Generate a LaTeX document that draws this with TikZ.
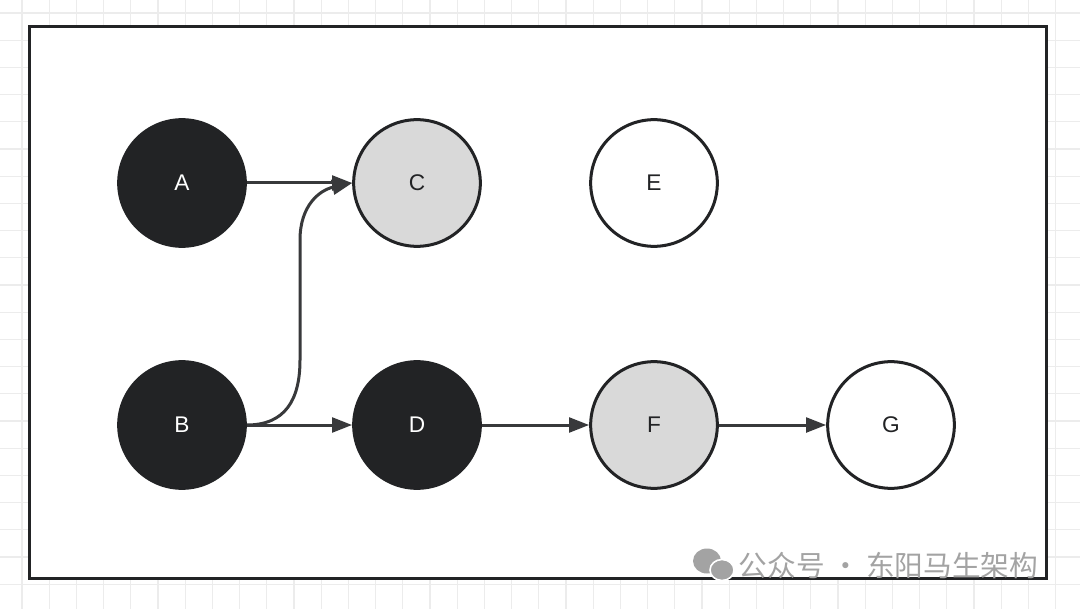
\documentclass[tikz,border=0pt]{standalone}
\usepackage{fontspec}
\setmainfont{Liberation Sans}
\newfontfamily\cjkfont{Noto Sans CJK SC}
\usetikzlibrary{arrows.meta}
\definecolor{ink}{HTML}{222325}
\definecolor{shade}{HTML}{D9D9D9}
\definecolor{gridline}{HTML}{ECECEC}
\definecolor{wmark}{HTML}{A3A3A3}

\begin{document}
\begin{tikzpicture}[x=0.75pt,y=-0.75pt,
    every node/.style={font=\fontsize{17}{20}\selectfont},
    vertex/.style={circle, draw=ink, line width=2.25pt, minimum size=95pt, inner sep=0pt},
    darkv/.style={vertex, fill=ink, text=white},
    grayv/.style={vertex, fill=shade, text=ink},
    whitev/.style={vertex, fill=white, text=ink},
    link/.style={draw=ink!90, line width=2.25pt, -{Triangle[length=15pt,width=11pt]}}]
    \useasboundingbox (0,0) rectangle (1080,609);
    % background grid
    \foreach \k in {0,...,39}
      \draw[gridline, line width=0.9pt] ({22+27.2*\k},0) -- ({22+27.2*\k},609);
    \foreach \k in {0,...,22}
      \draw[gridline, line width=0.9pt] (0,{13+27.2*\k}) -- (1080,{13+27.2*\k});
    \draw[ink, line width=2.25pt, fill=white] (29.5,26.5) rectangle (1046.5,578.5);

    \node[darkv] (A) at (182,183) {A};
    \node[grayv] (C) at (417,183) {C};
    \node[whitev] (E) at (654,183) {E};
    \node[darkv] (B) at (182,425) {B};
    \node[darkv] (D) at (417,425) {D};
    \node[grayv] (F) at (654,425) {F};
    \node[whitev] (G) at (891,425) {G};

    \draw[link] (A) -- (C);
    \draw[link] (B.east) .. controls (285,425) and (300,400) .. (300,360)
      -- (300,240) .. controls (300,205) and (320,190) .. (C.west);
    \draw[link] (B) -- (D);
    \draw[link] (D) -- (F);
    \draw[link] (F) -- (G);

    % watermark
    \fill[wmark] (707,561) ellipse (14 and 12.5);
    \draw[white, line width=1.2pt, fill=wmark] (722,570) ellipse (12 and 10.5);
    \node[font=\cjkfont\fontsize{21.5}{24}\selectfont, text=wmark, anchor=west]
      (wm) at (734,566) {公众号 · 东阳马生架构};
  \end{tikzpicture}
\end{document}
